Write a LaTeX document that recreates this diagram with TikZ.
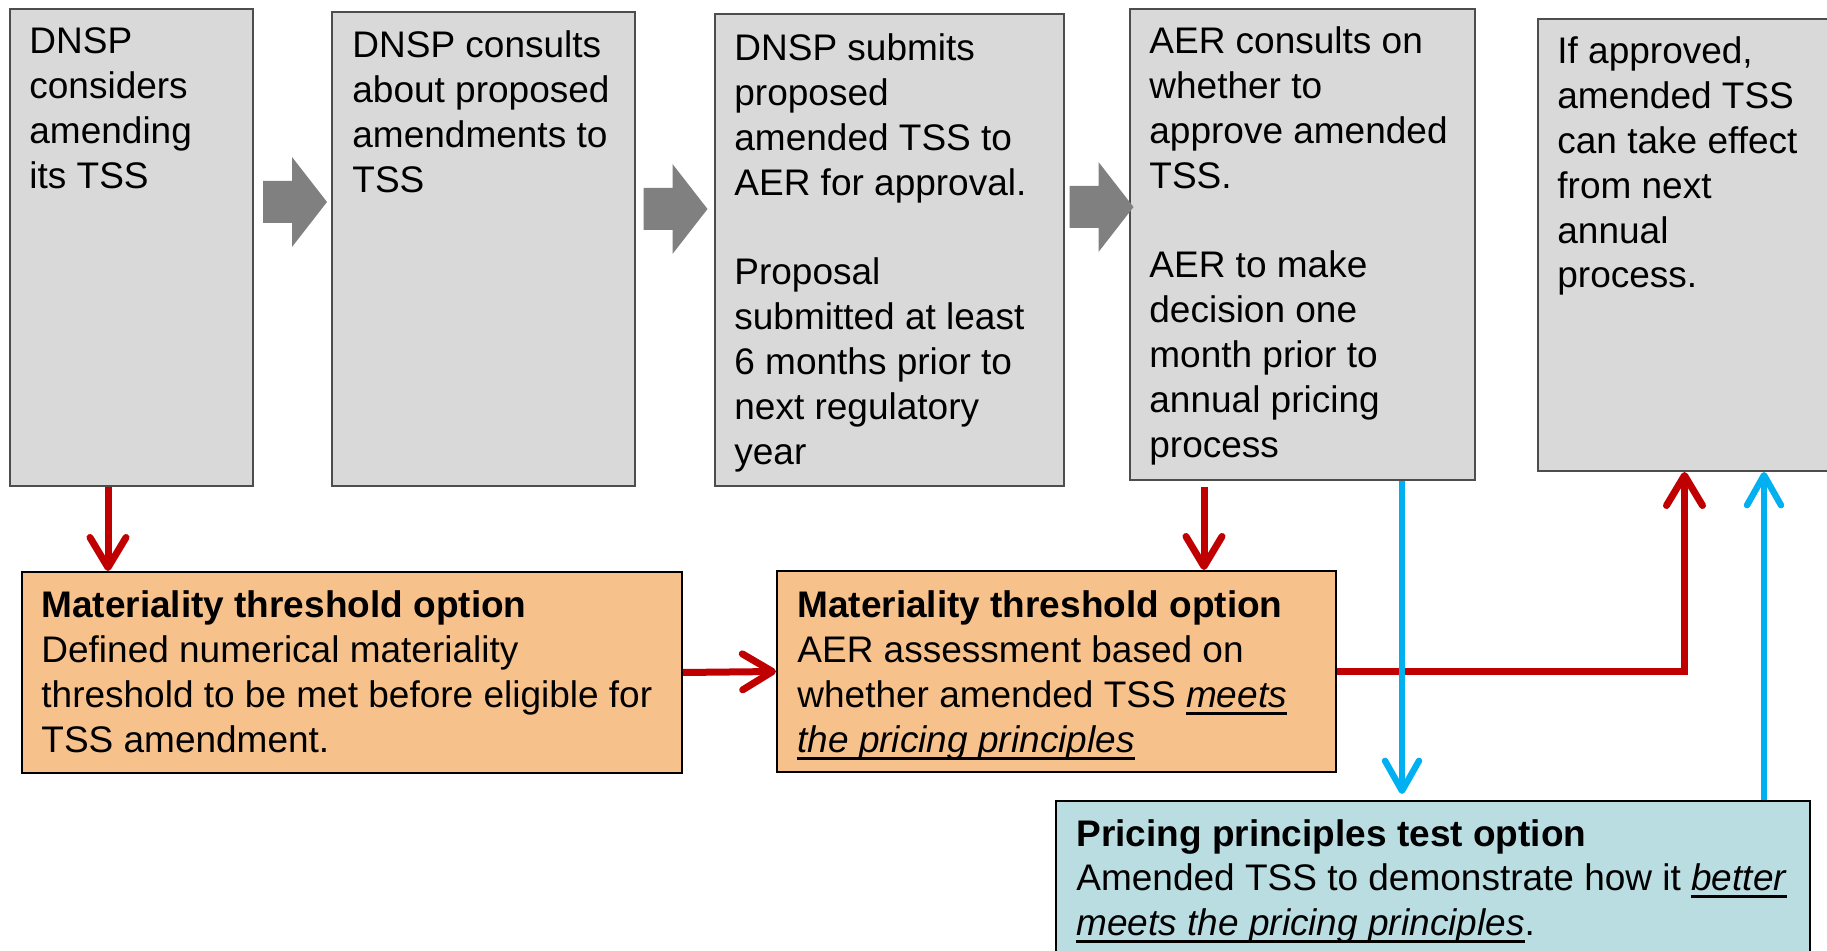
\documentclass[tikz,border=0pt]{standalone}
\usepackage{fontspec}
\setmainfont{Liberation Sans}
\usetikzlibrary{arrows.meta}
\definecolor{boxgray}{HTML}{D9D9D9}
\definecolor{boxedge}{HTML}{4D4D4D}
\definecolor{arrowgray}{HTML}{808080}
\definecolor{boxorange}{HTML}{F7C18B}
\definecolor{boxblue}{HTML}{B9DDE1}
\definecolor{darkred}{HTML}{C00000}
\definecolor{skyblue}{HTML}{00B0F0}
\newsavebox{\myulbox}
\newcommand{\myul}[1]{\leavevmode\sbox{\myulbox}{#1}\rlap{\rule[-3.6pt]{\wd\myulbox}{1.4pt}}\usebox{\myulbox}}
\newcommand{\boxtext}[1]{\parbox[t]{460pt}{\raggedright #1}}
\tikzset{
  graybox/.style={draw=boxedge, line width=1pt, fill=boxgray, anchor=north west, inner sep=0pt},
  orangebox/.style={draw=black, line width=1pt, fill=boxorange, anchor=north west, inner sep=0pt},
  bluebox/.style={draw=black, line width=1pt, fill=boxblue, anchor=north west, inner sep=0pt},
  txt/.style={anchor=base west, inner sep=0pt, font=\fontsize{18.5pt}{22.4pt}\selectfont},
  redline/.style={draw=darkred, line width=3.5pt, -{Straight Barb[length=15pt,width=18pt,round]}},
  blueline/.style={draw=skyblue, line width=3.2pt, -{Straight Barb[length=15pt,width=17pt,round]}},
  blockarrow/.pic={
    \fill[arrowgray] (-32,-21) -- (-3,-21) -- (-3,-45) -- (32,0) -- (-3,45) -- (-3,21) -- (-32,21) -- cycle;
  }
}
\begin{document}
\begin{tikzpicture}[x=0.5pt,y=-0.5pt]
\useasboundingbox (0,0) rectangle (1827,951);
\clip (0,0) rectangle (1827,951);

% top boxes
\node[graybox, minimum width=121.5pt, minimum height=238.5pt] (b1) at (9,8) {};
\node[graybox, minimum width=151.5pt, minimum height=237pt] (b2) at (331,11) {};
\node[graybox, minimum width=174.5pt, minimum height=236pt] (b3) at (714,13) {};
\node[graybox, minimum width=172.5pt, minimum height=235.5pt] (b4) at (1129,8) {};
\node[graybox, minimum width=160pt, minimum height=226pt] (b5) at (1537,18) {};

% bottom boxes
\node[orangebox, minimum width=330pt, minimum height=100.5pt] (o1) at (21,571) {};
\node[orangebox, minimum width=279.5pt, minimum height=100.5pt] (o2) at (776,570) {};
\node[bluebox, minimum width=377pt, minimum height=100pt] (bl) at (1055,800) {};

% block arrows
\pic at (295,202) {blockarrow};
\pic at (675.5,209) {blockarrow};
\pic at (1101.5,207) {blockarrow};

% texts
\node[txt] (t1) at (29,54) {\boxtext{DNSP\\considers\\amending\\its TSS}};
\node[txt] (t2) at (352,58) {\boxtext{DNSP consults\\about proposed\\amendments to\\TSS}};
\node[txt] (t3) at (734,61) {\boxtext{DNSP submits\\proposed\\amended TSS to\\AER for approval.\\[22.4pt]Proposal\\submitted at least\\6 months prior to\\next regulatory\\year}};
\node[txt] (t4) at (1149,54) {\boxtext{AER consults on\\whether to\\approve amended\\TSS.\\[22.4pt]AER to make\\decision one\\month prior to\\annual pricing\\process}};
\node[txt] (t5) at (1557,64) {\boxtext{If approved,\\amended TSS\\can take effect\\from next\\annual\\process.}};
\node[txt] (to1) at (41,618) {\boxtext{\textbf{Materiality threshold option}\\Defined numerical materiality\\threshold to be met before eligible for\\TSS amendment.}};
\node[txt] (to2) at (797,618) {\boxtext{\textbf{Materiality threshold option}\\AER assessment based on\\whether amended TSS \myul{\textit{meets}}\\\myul{\textit{the pricing principles}}}};
\node[txt] (tbl) at (1076,846) {\boxtext{\textbf{Pricing principles test option}\\Amended TSS to demonstrate how it \myul{\textit{better}}\\\myul{\textit{meets the pricing principles}}.}};

% connector x positions
\coordinate (x1) at (108,0);
\coordinate (x2) at (1204,0);
\coordinate (x4) at (1684.5,0);
\coordinate (x5) at (1402,0);
\coordinate (x6) at (1764,0);

% red connectors
\draw[redline] (b1.south -| x1) -- (o1.north -| x1);
\draw[redline, shorten <=3pt] (b4.south -| x2) -- (o2.north -| x2);
\draw[redline] (o1.east) -- (o2.west);
\draw[redline] (o2.east) -| (b5.south -| x4);

% blue connectors
\draw[blueline, shorten >=3pt] (b4.south -| x5) -- (bl.north -| x5);
\draw[blueline] (bl.north -| x6) -- (b5.south -| x6);
\end{tikzpicture}
\end{document}
